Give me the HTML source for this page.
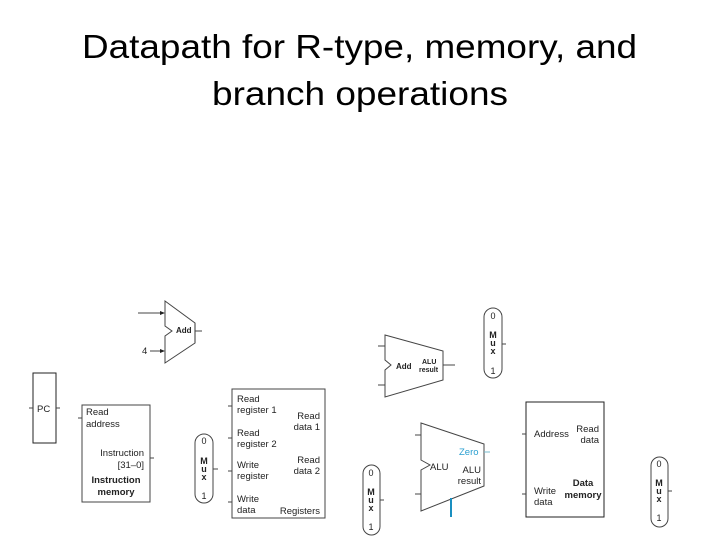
<!DOCTYPE html>
<html><head><style>
html,body{margin:0;padding:0;background:#fff;}
svg{display:block;}
text{font-family:"Liberation Sans",sans-serif;}
</style></head><body>
<svg width="720" height="540" viewBox="0 0 720 540" xmlns="http://www.w3.org/2000/svg">
<text x="82" y="58" font-size="33" textLength="555" lengthAdjust="spacingAndGlyphs">Datapath for R-type, memory, and</text>
<text x="212" y="105" font-size="33" textLength="296" lengthAdjust="spacingAndGlyphs">branch operations</text>

<g stroke="#444" fill="none" stroke-width="1">
<polygon points="165,301 195,323 195,343 165,363 165,336 172,331 165,326" fill="#fff"/>
<line x1="195" y1="323" x2="195" y2="343" stroke="#999" stroke-width="2"/>
<line x1="138" y1="313" x2="163" y2="313"/>
<line x1="150" y1="351" x2="163" y2="351"/>
<line x1="195" y1="331" x2="202" y2="331"/>
<rect x="33" y="373" width="23" height="70" stroke="#222"/>
<line x1="29" y1="408" x2="33" y2="408"/>
<line x1="56" y1="408" x2="60" y2="408"/>
<rect x="82" y="405" width="68" height="97"/>
<line x1="78" y1="418" x2="82" y2="418"/>
<line x1="150" y1="458" x2="154" y2="458"/>
<rect x="195" y="434" width="18" height="69" rx="9"/>
<line x1="213" y1="469" x2="218" y2="469"/>
<rect x="232" y="389" width="93" height="129"/>
<line x1="228" y1="406" x2="232" y2="406"/>
<line x1="228" y1="438" x2="232" y2="438"/>
<line x1="228" y1="471" x2="232" y2="471"/>
<line x1="228" y1="502" x2="232" y2="502"/>
<polygon points="385,335 443,351 443,380 385,397 385,370 391,365 385,360" fill="#fff"/>
<line x1="443" y1="365" x2="455" y2="365"/>
<line x1="378" y1="346" x2="385" y2="346"/>
<line x1="378" y1="385" x2="385" y2="385"/>
<rect x="484" y="308" width="18" height="70" rx="9"/>
<line x1="502" y1="344" x2="506" y2="344"/>
<polygon points="421,423 484,444 484,486 421,511 421,470 430,465 421,460" fill="#fff"/>
<line x1="415" y1="435" x2="421" y2="435"/>
<line x1="415" y1="494" x2="421" y2="494"/>
<rect x="363" y="465" width="17" height="70" rx="8.5"/>
<line x1="380" y1="500" x2="384" y2="500"/>
<rect x="526" y="402" width="78" height="115" stroke="#222"/>
<line x1="522" y1="434" x2="526" y2="434"/>
<line x1="522" y1="494" x2="526" y2="494"/>
<rect x="651" y="457" width="17" height="70" rx="8.5"/>
<line x1="668" y1="491" x2="672" y2="491"/>
</g>
<g fill="#222">
<polygon points="165,313 160,311 160,315"/>
<polygon points="165,351 160,349 160,353"/>
</g>
<line x1="451" y1="498" x2="451" y2="517" stroke="#1a8fc0" stroke-width="2"/>
<line x1="484" y1="452" x2="490" y2="452" stroke="#7bc" stroke-width="1"/>

<g font-size="8" font-weight="bold" fill="#222">
<text x="176" y="333">Add</text>
<text x="396" y="369">Add</text>
</g>
<g font-size="7" font-weight="bold" fill="#222">
<text x="422" y="364">ALU</text>
<text x="419" y="372">result</text>
</g>
<g font-size="9.5" fill="#222">
<text x="142" y="354">4</text>
<text x="37" y="412">PC</text>
<text x="86" y="415">Read</text>
<text x="86" y="427">address</text>
<text x="144" y="456" text-anchor="end">Instruction</text>
<text x="144" y="468" text-anchor="end">[31–0]</text>
<text x="116" y="483" text-anchor="middle" font-weight="bold">Instruction</text>
<text x="116" y="495" text-anchor="middle" font-weight="bold">memory</text>
<text x="237" y="402">Read</text>
<text x="237" y="413">register 1</text>
<text x="237" y="436">Read</text>
<text x="237" y="447">register 2</text>
<text x="237" y="468">Write</text>
<text x="237" y="479">register</text>
<text x="237" y="502">Write</text>
<text x="237" y="513">data</text>
<text x="320" y="419" text-anchor="end">Read</text>
<text x="320" y="430" text-anchor="end">data 1</text>
<text x="320" y="463" text-anchor="end">Read</text>
<text x="320" y="474" text-anchor="end">data 2</text>
<text x="320" y="514" text-anchor="end">Registers</text>
<text x="430" y="470">ALU</text>
<text x="481" y="473" text-anchor="end">ALU</text>
<text x="481" y="484" text-anchor="end">result</text>
<text x="459" y="455" fill="#2a9fd0">Zero</text>
<text x="534" y="437">Address</text>
<text x="599" y="432" text-anchor="end">Read</text>
<text x="599" y="443" text-anchor="end">data</text>
<text x="534" y="494">Write</text>
<text x="534" y="505">data</text>
<text x="583" y="486" text-anchor="middle" font-weight="bold">Data</text>
<text x="583" y="498" text-anchor="middle" font-weight="bold">memory</text>
</g>
<g font-size="9" fill="#222" text-anchor="middle">
<text x="204" y="444">0</text><text x="204" y="464" font-weight="bold">M</text><text x="204" y="472" font-weight="bold">u</text><text x="204" y="480" font-weight="bold">x</text><text x="204" y="499">1</text>
<text x="493" y="319">0</text><text x="493" y="338" font-weight="bold">M</text><text x="493" y="346" font-weight="bold">u</text><text x="493" y="354" font-weight="bold">x</text><text x="493" y="374">1</text>
<text x="371" y="476">0</text><text x="371" y="495" font-weight="bold">M</text><text x="371" y="503" font-weight="bold">u</text><text x="371" y="511" font-weight="bold">x</text><text x="371" y="530">1</text>
<text x="659" y="467">0</text><text x="659" y="486" font-weight="bold">M</text><text x="659" y="494" font-weight="bold">u</text><text x="659" y="502" font-weight="bold">x</text><text x="659" y="521">1</text>
</g>
</svg>
</body></html>
